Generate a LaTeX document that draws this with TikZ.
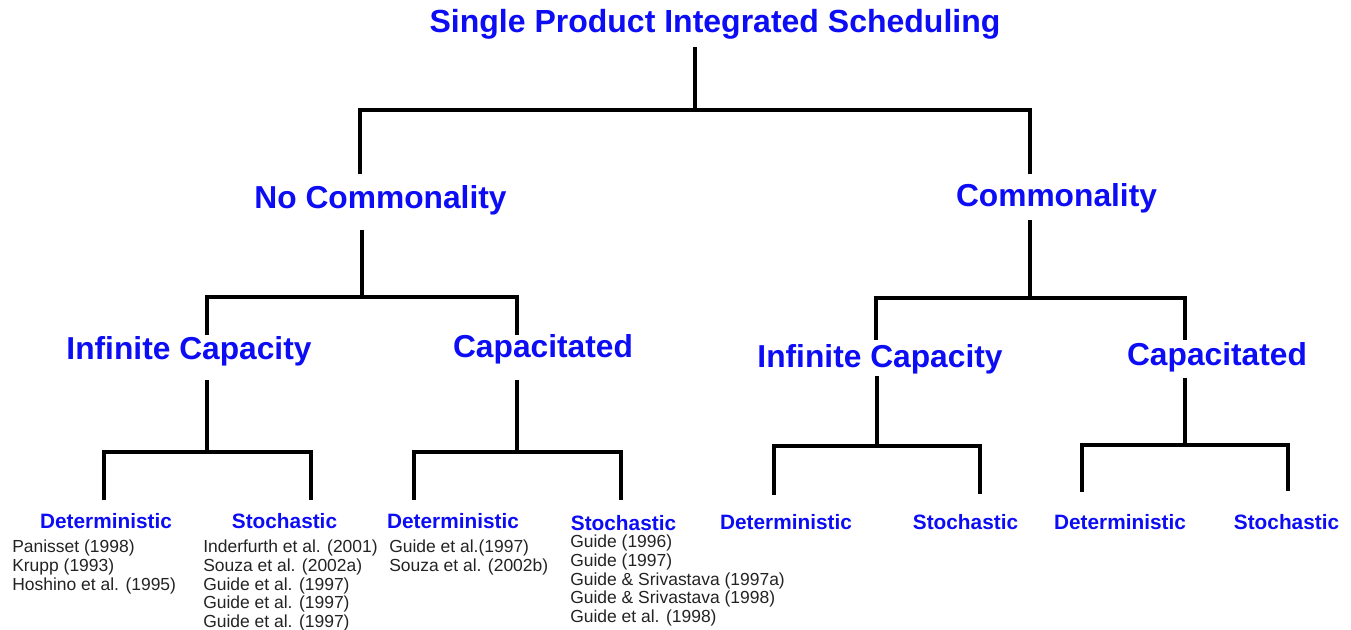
\documentclass[tikz,border=0pt]{standalone}
\usepackage{fontspec}
\setmainfont{Liberation Sans}
\begin{document}
\definecolor{headblue}{RGB}{12,12,245}
\definecolor{refgray}{RGB}{35,35,35}
\begin{tikzpicture}[x=0.75pt,y=-0.75pt,
  title/.style={text=headblue,inner sep=0,anchor=base,font=\bfseries\fontsize{24}{28}\selectfont},
  head/.style={text=headblue,inner sep=0,anchor=base,font=\bfseries\fontsize{23.8}{28}\selectfont},
  leaf/.style={text=headblue,inner sep=0,anchor=base,font=\bfseries\fontsize{15.6}{18}\selectfont},
  refs/.style={text=refgray,inner sep=0,anchor=north west,align=left,font=\fontsize{13.1}{13.9}\selectfont},
  link/.style={draw=black,line width=2.4pt,line join=miter}]
\useasboundingbox (0,0) rectangle (1351,629);

% category headings
\node[title] (root) at (715,32) {Single Product Integrated Scheduling};
\node[head] (nc)  at (380.5,208) {No Commonality};
\node[head] (c)   at (1056.5,206) {Commonality};
\node[head] (nci) at (189,359) {Infinite Capacity};
\node[head] (ncc) at (543,357) {Capacitated};
\node[head] (ci)  at (880,367) {Infinite Capacity};
\node[head] (cc)  at (1217,365) {Capacitated};

% leaf headings
\node[leaf] (d1) at (106,528)   {Deterministic};
\node[leaf] (s1) at (284.5,528) {Stochastic};
\node[leaf] (d2) at (453,528)   {Deterministic};
\node[leaf] (s2) at (623.5,530) {Stochastic};
\node[leaf] (d3) at (786,529)   {Deterministic};
\node[leaf] (s3) at (965.5,529) {Stochastic};
\node[leaf] (d4) at (1120,529)  {Deterministic};
\node[leaf] (s4) at (1286.5,529){Stochastic};

% reference lists
\node[refs] (r1) at (12,540)  {Panisset (1998)\\Krupp (1993)\\Hoshino et al. (1995)};
\node[refs] (r2) at (203,540) {Inderfurth et al. (2001)\\Souza et al. (2002a)\\Guide et al. (1997)\\Guide et al. (1997)\\Guide et al. (1997)};
\node[refs] (r3) at (389,540) {Guide et al.(1997)\\Souza et al. (2002b)};
\node[refs] (r4) at (570,535) {Guide (1996)\\Guide (1997)\\Guide \& Srivastava (1997a)\\Guide \& Srivastava (1998)\\Guide et al. (1998)};

% stem tops and child ends of the tree connectors
\coordinate (root-s) at (695,47);   \coordinate (root-j) at (695,110);
\coordinate (nc-e)   at (360,174);  \coordinate (c-e)    at (1030,174);
\coordinate (nc-s)   at (362,230);  \coordinate (nc-j)   at (362,297);
\coordinate (nci-e)  at (207,335);  \coordinate (ncc-e)  at (517,335);
\coordinate (c-s)    at (1030,220); \coordinate (c-j)    at (1030,298);
\coordinate (ci-e)   at (876,340);  \coordinate (cc-e)   at (1185,340);
\coordinate (nci-s)  at (207,380);  \coordinate (nci-j)  at (207,452);
\coordinate (d1-e)   at (104,500);  \coordinate (s1-e)   at (311,500);
\coordinate (ncc-s)  at (517,380);  \coordinate (ncc-j)  at (517,452);
\coordinate (d2-e)   at (414,500);  \coordinate (s2-e)   at (621,500);
\coordinate (ci-s)   at (877,376);  \coordinate (ci-j)   at (877,446);
\coordinate (d3-e)   at (774,495);  \coordinate (s3-e)   at (980,494);
\coordinate (cc-s)   at (1185,378); \coordinate (cc-j)   at (1185,445);
\coordinate (d4-e)   at (1082,492); \coordinate (s4-e)   at (1288,491);

% connectors
\foreach \p/\a/\b in {root/nc/c, nc/nci/ncc, c/ci/cc, nci/d1/s1, ncc/d2/s2, ci/d3/s3, cc/d4/s4}{
  \draw[link] (\p-s) -- (\p-j);
  \draw[link] (\a-e) -- (\a-e |- \p-j) -- (\b-e |- \p-j) -- (\b-e);
}
\end{tikzpicture}
\end{document}
